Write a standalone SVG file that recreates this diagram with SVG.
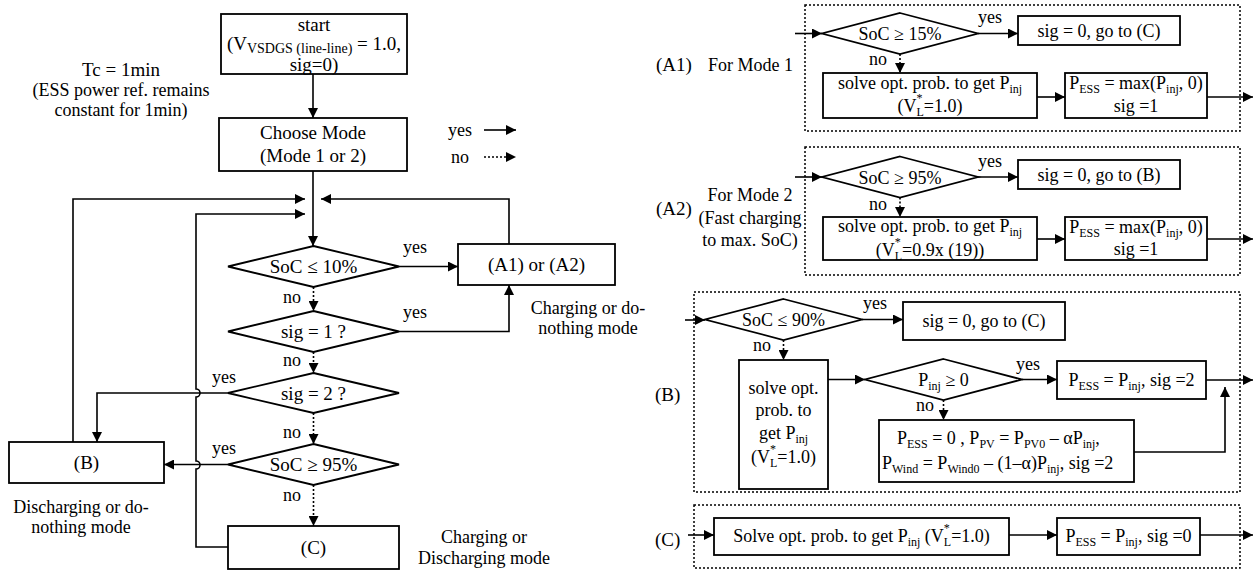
<svg xmlns="http://www.w3.org/2000/svg" width="1258" height="570" viewBox="0 0 1258 570">
<style>
.bx{fill:#fff;stroke:#000;stroke-width:1.8}
.ln{fill:none;stroke:#000;stroke-width:1.6}
.dt{fill:none;stroke:#000;stroke-width:1.6;stroke-dasharray:2,2}
.pn{fill:none;stroke:#000;stroke-width:1.5;stroke-dasharray:2,2}
text{font-family:"Liberation Serif","Times New Roman",serif;fill:#000}
.t19{font-size:19px}
.t18{font-size:18px}
.c{text-anchor:middle}
.sb{font-size:12px}
</style>
<defs>
<marker id="ah" viewBox="0 0 10 10" refX="10" refY="5" markerWidth="10" markerHeight="10" markerUnits="userSpaceOnUse" orient="auto"><path d="M0,0 L10,5 L0,10 z" fill="#000"/></marker>
</defs>
<rect width="1258" height="570" fill="#fff"/>

<g id="annotations">
<text class="t19 c" x="121" y="76">Tc = 1min</text>
<text class="t18 c" x="121" y="96">(ESS power ref. remains</text>
<text class="t18 c" x="121" y="116">constant for 1min)</text>
<text class="t18 c" x="588" y="314">Charging or do-</text>
<text class="t18 c" x="588" y="334">nothing mode</text>
<text class="t18 c" x="81" y="513">Discharging or do-</text>
<text class="t18 c" x="81" y="533">nothing mode</text>
<text class="t18 c" x="484" y="543">Charging or</text>
<text class="t18 c" x="484" y="564">Discharging mode</text>
<text class="t18" x="448" y="136">yes</text>
<text class="t18" x="451" y="163">no</text>
<text class="t19" x="656" y="71">(A1)</text>
<text class="t18" x="708" y="71">For Mode 1</text>
<text class="t19" x="656" y="215">(A2)</text>
<text class="t18 c" x="750" y="201">For Mode 2</text>
<text class="t18 c" x="750" y="224">(Fast charging</text>
<text class="t18 c" x="750" y="246">to max. SoC)</text>
<text class="t19" x="655" y="401">(B)</text>
<text class="t19" x="655" y="546">(C)</text>
</g>

<g id="connectors">
<path class="ln" d="M484,130 H516" marker-end="url(#ah)"/>
<path class="dt" d="M484,157 H516" marker-end="url(#ah)"/>
<path class="ln" d="M313,74 V118" marker-end="url(#ah)"/>
<path class="ln" d="M313,171 V246" marker-end="url(#ah)"/>
<path class="ln" d="M73,442 V199 H305" marker-end="url(#ah)"/>
<path class="ln" d="M509,244 V199 H321" marker-end="url(#ah)"/>
<path class="ln" d="M228,547 H196 V469 A4,4 0 0 0 196,461 V397 A4,4 0 0 0 196,389 V214 H305" marker-end="url(#ah)"/>
<path class="ln" d="M399,266.5 H458" marker-end="url(#ah)"/>
<path class="ln" d="M399,331.5 H509 V285" marker-end="url(#ah)"/>
<path class="ln" d="M228,393 H97 V442" marker-end="url(#ah)"/>
<path class="ln" d="M228,464.5 H164" marker-end="url(#ah)"/>
<path class="dt" d="M313.5,287 V311" marker-end="url(#ah)"/>
<path class="dt" d="M313.5,352 V373" marker-end="url(#ah)"/>
<path class="dt" d="M313.5,413 V444" marker-end="url(#ah)"/>
<path class="dt" d="M313.5,485 V526" marker-end="url(#ah)"/>
<text class="t18" x="403" y="253">yes</text>
<text class="t18" x="403" y="318">yes</text>
<text class="t18" x="212" y="383">yes</text>
<text class="t18" x="212" y="454">yes</text>
<text class="t18" x="283" y="303">no</text>
<text class="t18" x="283" y="366">no</text>
<text class="t18" x="283" y="438">no</text>
<text class="t18" x="283" y="501">no</text>

<path class="ln" d="M795,33.5 H822" marker-end="url(#ah)"/>
<path class="ln" d="M978,33.5 H1018" marker-end="url(#ah)"/>
<path class="dt" d="M900,54 V73" marker-end="url(#ah)"/>
<path class="ln" d="M1037,97 H1065" marker-end="url(#ah)"/>
<path class="ln" d="M1207,97 H1253" marker-end="url(#ah)"/>
<text class="t18" x="978" y="23">yes</text>
<text class="t18" x="869" y="65">no</text>

<path class="ln" d="M795,177 H822" marker-end="url(#ah)"/>
<path class="ln" d="M978,177 H1018" marker-end="url(#ah)"/>
<path class="dt" d="M900,197.5 V217" marker-end="url(#ah)"/>
<path class="ln" d="M1037,239 H1065" marker-end="url(#ah)"/>
<path class="ln" d="M1207,239 H1253" marker-end="url(#ah)"/>
<text class="t18" x="978" y="167">yes</text>
<text class="t18" x="869" y="210">no</text>

<path class="ln" d="M685,320 H705" marker-end="url(#ah)"/>
<path class="ln" d="M862,319.5 H903" marker-end="url(#ah)"/>
<path class="dt" d="M783.5,340 V360" marker-end="url(#ah)"/>
<path class="ln" d="M828,379.5 H865" marker-end="url(#ah)"/>
<path class="ln" d="M1022,379.5 H1057" marker-end="url(#ah)"/>
<path class="ln" d="M1206,380 H1253" marker-end="url(#ah)"/>
<path class="dt" d="M943.5,400 V420" marker-end="url(#ah)"/>
<path class="ln" d="M1134,452 H1225 V387" marker-end="url(#ah)"/>
<text class="t18" x="863" y="309">yes</text>
<text class="t18" x="753" y="351">no</text>
<text class="t18" x="1016" y="370">yes</text>
<text class="t18" x="916" y="411">no</text>

<path class="ln" d="M688,535 H714" marker-end="url(#ah)"/>
<path class="ln" d="M1009,535 H1057" marker-end="url(#ah)"/>
<path class="ln" d="M1200,535 H1253" marker-end="url(#ah)"/>
</g>

<g id="panels">
<rect class="pn" x="805" y="5" width="435" height="126"/>
<rect class="pn" x="805" y="147" width="435" height="128"/>
<rect class="pn" x="694" y="292" width="546" height="200"/>
<rect class="pn" x="694" y="505" width="546" height="63"/>
</g>

<g id="start">
<rect class="bx" x="221" y="14" width="186" height="60"/>
<text class="t19 c" x="314" y="31">start</text>
<text class="t19 c" x="314" y="50">(V<tspan font-size="14" dy="3">VSDGS (line-line)</tspan><tspan dy="-3"> = 1.0,</tspan></text>
<text class="t19 c" x="314" y="71">sig=0)</text>
</g>
<g id="choose">
<rect class="bx" x="219" y="118" width="188" height="53"/>
<text class="t19 c" x="313" y="139">Choose Mode</text>
<text class="t19 c" x="313" y="162">(Mode 1 or 2)</text>
</g>
<g id="d_soc10">
<polygon class="bx" points="313.5,246 399,266.5 313.5,287 228,266.5"/>
<text class="t19 c" x="313.5" y="273">SoC ≤ 10%</text>
</g>
<g id="d_sig1">
<polygon class="bx" points="313.5,311 399,331.5 313.5,352 228,331.5"/>
<text class="t19 c" x="313.5" y="338">sig = 1 ?</text>
</g>
<g id="d_sig2">
<polygon class="bx" points="313.5,373 399,393 313.5,413 228,393"/>
<text class="t19 c" x="313.5" y="399.5">sig = 2 ?</text>
</g>
<g id="d_soc95">
<polygon class="bx" points="313.5,444 399,464.5 313.5,485 228,464.5"/>
<text class="t19 c" x="313.5" y="471">SoC ≥ 95%</text>
</g>
<g id="nodeA">
<rect class="bx" x="458" y="244" width="157" height="41"/>
<text class="t19 c" x="536.5" y="271">(A1) or (A2)</text>
</g>
<g id="nodeB">
<rect class="bx" x="9" y="442" width="155" height="41"/>
<text class="t19 c" x="86.5" y="469">(B)</text>
</g>
<g id="nodeC">
<rect class="bx" x="228" y="526" width="171" height="43"/>
<text class="t19 c" x="313.5" y="554">(C)</text>
</g>

<g id="a1_d">
<polygon class="bx" points="900,13 978,33.5 900,54 822,33.5"/>
<text class="t18 c" x="900" y="40">SoC ≥ 15%</text>
</g>
<g id="a1_yes">
<rect class="bx" x="1018" y="16" width="162" height="29"/>
<text class="t18 c" x="1099" y="37">sig = 0, go to (C)</text>
</g>
<g id="a1_solve">
<rect class="bx" x="823" y="73" width="214" height="45"/>
<text class="t18 c" x="930" y="89">solve opt. prob. to get P<tspan class="sb" dy="4">inj</tspan></text>
<text class="t18 c" x="930" y="112">(V<tspan class="sb" dy="-10">*</tspan><tspan class="sb" dx="-6" dy="14">L</tspan><tspan dy="-4">=1.0)</tspan></text>
</g>
<g id="a1_pess">
<rect class="bx" x="1065" y="73" width="142" height="45"/>
<text class="t18 c" x="1136" y="89">P<tspan class="sb" dy="4">ESS</tspan><tspan dy="-4"> = max(P</tspan><tspan class="sb" dy="4">inj</tspan><tspan dy="-4">, 0)</tspan></text>
<text class="t18 c" x="1136" y="112">sig =1</text>
</g>

<g id="a2_d">
<polygon class="bx" points="900,156.5 978,177 900,197.5 822,177"/>
<text class="t18 c" x="900" y="183.5">SoC ≥ 95%</text>
</g>
<g id="a2_yes">
<rect class="bx" x="1018" y="160" width="162" height="29"/>
<text class="t18 c" x="1099" y="181">sig = 0, go to (B)</text>
</g>
<g id="a2_solve">
<rect class="bx" x="823" y="217" width="214" height="43"/>
<text class="t18 c" x="930" y="232">solve opt. prob. to get P<tspan class="sb" dy="4">inj</tspan></text>
<text class="t18 c" x="930" y="256">(V<tspan class="sb" dy="-10">*</tspan><tspan class="sb" dx="-6" dy="14">L</tspan><tspan dy="-4">=0.9x (19))</tspan></text>
</g>
<g id="a2_pess">
<rect class="bx" x="1065" y="217" width="142" height="43"/>
<text class="t18 c" x="1136" y="233">P<tspan class="sb" dy="4">ESS</tspan><tspan dy="-4"> = max(P</tspan><tspan class="sb" dy="4">inj</tspan><tspan dy="-4">, 0)</tspan></text>
<text class="t18 c" x="1136" y="255">sig =1</text>
</g>

<g id="b_d">
<polygon class="bx" points="783.5,299 862,319.5 783.5,340 705,319.5"/>
<text class="t18 c" x="783.5" y="326">SoC ≤ 90%</text>
</g>
<g id="b_yes">
<rect class="bx" x="903" y="302" width="162" height="38"/>
<text class="t18 c" x="984" y="327">sig = 0, go to (C)</text>
</g>
<g id="b_solve">
<rect class="bx" x="739" y="360" width="89" height="129"/>
<text class="t18 c" x="783.5" y="394">solve opt.</text>
<text class="t18 c" x="783.5" y="416">prob. to</text>
<text class="t18 c" x="783.5" y="439">get P<tspan class="sb" dy="4">inj</tspan></text>
<text class="t18 c" x="783.5" y="463">(V<tspan class="sb" dy="-10">*</tspan><tspan class="sb" dx="-6" dy="14">L</tspan><tspan dy="-4">=1.0)</tspan></text>
</g>
<g id="b_d2">
<polygon class="bx" points="943.5,359 1022,379.5 943.5,400 865,379.5"/>
<text class="t18 c" x="943.5" y="386">P<tspan class="sb" dy="4">inj</tspan><tspan dy="-4"> ≥ 0</tspan></text>
</g>
<g id="b_pess">
<rect class="bx" x="1057" y="361" width="149" height="38"/>
<text class="t18 c" x="1131.5" y="386">P<tspan class="sb" dy="4">ESS</tspan><tspan dy="-4"> = P</tspan><tspan class="sb" dy="4">inj</tspan><tspan dy="-4">, sig =2</tspan></text>
</g>
<g id="b_no">
<rect class="bx" x="879" y="420" width="255" height="62"/>
<text class="t18" x="897" y="444">P<tspan class="sb" dy="4">ESS</tspan><tspan dy="-4"> = 0 , P</tspan><tspan class="sb" dy="4">PV</tspan><tspan dy="-4">  = P</tspan><tspan class="sb" dy="4">PV0</tspan><tspan dy="-4"> – αP</tspan><tspan class="sb" dy="4">inj</tspan><tspan dy="-4">,</tspan></text>
<text class="t18" x="882" y="469">P<tspan class="sb" dy="4">Wind</tspan><tspan dy="-4">  = P</tspan><tspan class="sb" dy="4">Wind0</tspan><tspan dy="-4"> – (1–α)P</tspan><tspan class="sb" dy="4">inj</tspan><tspan dy="-4">, sig =2</tspan></text>
</g>

<g id="c_solve">
<rect class="bx" x="714" y="518" width="295" height="37"/>
<text class="t18 c" x="861.5" y="542">Solve opt. prob. to get P<tspan class="sb" dy="4">inj</tspan><tspan dy="-4"> (V</tspan><tspan class="sb" dy="-10">*</tspan><tspan class="sb" dx="-6" dy="14">L</tspan><tspan dy="-4">=1.0)</tspan></text>
</g>
<g id="c_pess">
<rect class="bx" x="1057" y="518" width="143" height="37"/>
<text class="t18 c" x="1128.5" y="542">P<tspan class="sb" dy="4">ESS</tspan><tspan dy="-4"> = P</tspan><tspan class="sb" dy="4">inj</tspan><tspan dy="-4">, sig =0</tspan></text>
</g>
</svg>
